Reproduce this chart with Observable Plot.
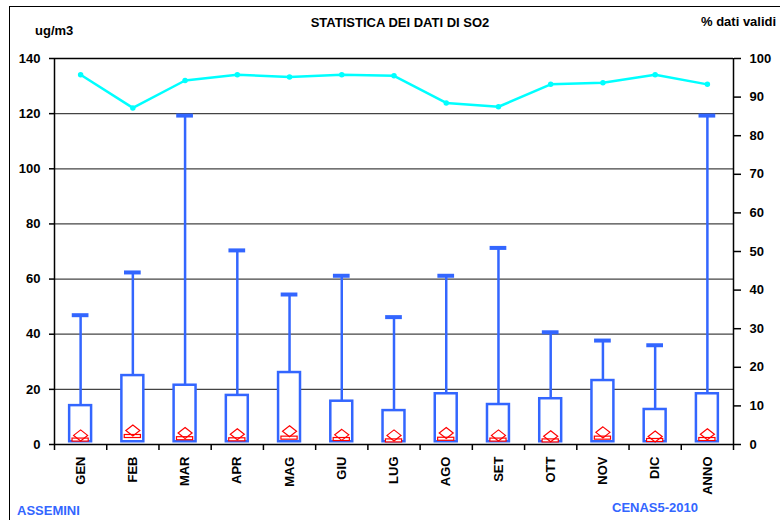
<!DOCTYPE html>
<html>
<head>
<meta charset="utf-8">
<script src="https://cdn.jsdelivr.net/npm/d3@7"></script>
<script src="https://cdn.jsdelivr.net/npm/@observablehq/plot@0.6"></script>
<style>
  html, body { margin: 0; padding: 0; background: #fff; }
  #wrap { position: relative; width: 780px; height: 520px; overflow: hidden; font-family: "Liberation Sans", Arial, sans-serif; font-weight: bold; }
  #wrap svg { position: absolute; left: 0; top: 0; }
  .t { position: absolute; font-size: 13px; white-space: nowrap; line-height: 1; }
  #frame { position: absolute; left: 9px; top: 6px; width: 800px; height: 600px; border-left: 1.5px solid #000; border-top: 1.5px solid #000; }
</style>
</head>
<body>
<div id="wrap">
  <div id="frame"></div>
  <div id="chart"></div>
  <div class="t" style="left:35px; top:24px;">ug/m3</div>
  <div class="t" style="left:400px; top:16px; transform:translateX(-50%);">STATISTICA DEI DATI DI SO2</div>
  <div class="t" style="left:701px; top:15px;">% dati validi</div>
  <div class="t" style="left:17px; top:504px; color:#3366FF;">ASSEMINI</div>
  <div class="t" style="left:612px; top:501px; color:#3366FF;">CENAS5-2010</div>
</div>
<script>
const categories = ["GEN","FEB","MAR","APR","MAG","GIU","LUG","AGO","SET","OTT","NOV","DIC","ANNO"];
const minVal    = [1, 1, 1, 1, 1, 1, 1, 1, 1, 1, 1, 1, 1];
const boxTop    = [14.1, 25.0, 21.5, 17.8, 26.1, 15.7, 12.3, 18.4, 14.5, 16.6, 23.2, 12.7, 18.4];
const maxVal    = [46.9, 62.4, 119.3, 70.4, 54.4, 61.2, 46.2, 61.2, 71.3, 40.7, 37.7, 36.0, 119.3];
const meanVal   = [3.3, 5.1, 4.2, 3.7, 4.8, 3.5, 3.3, 4.2, 3.3, 3.0, 4.4, 2.9, 3.7];
const medianVal = [1.6, 2.9, 2.1, 1.7, 2.3, 1.8, 1.3, 1.9, 1.6, 1.3, 2.3, 1.45, 1.8];
const pctValid  = [95.8, 87.2, 94.3, 95.8, 95.2, 95.8, 95.5, 88.5, 87.5, 93.3, 93.7, 95.8, 93.3];
const leftTicks = [0, 20, 40, 60, 80, 100, 120, 140];
const rightTicks = [0, 10, 20, 30, 40, 50, 60, 70, 80, 90, 100];

const ratio = 140 / 100; // right axis (%) mapped onto left axis (ug/m3)
const data = categories.map((c, i) => ({
  c, i, x: i + 0.5,
  lo: minVal[i], hi: boxTop[i], max: maxVal[i],
  mean: meanVal[i], med: medianVal[i], pct: pctValid[i] * ratio
}));

const blue = "#3366FF", red = "#FF0000", cyan = "#00FFFF";
const diamond = {
  draw(ctx) {
    const w = 7, h = 5.5;
    ctx.moveTo(0, -h); ctx.lineTo(w, 0); ctx.lineTo(0, h); ctx.lineTo(-w, 0); ctx.closePath();
  }
};

const chart = Plot.plot({
  width: 780, height: 520,
  marginTop: 58, marginBottom: 76, marginLeft: 54, marginRight: 47,
  x: { type: "linear", domain: [0, categories.length] },
  y: { domain: [0, 140] },
  style: { fontFamily: "'Liberation Sans', Arial, sans-serif", fontWeight: "bold", fontSize: "13px", color: "#000", background: "transparent" },
  marks: [
    Plot.ruleY(leftTicks.filter(v => v > 0 && v < 140), { stroke: "#444", strokeWidth: 1.3 }),
    Plot.ruleY([140], { stroke: "#000", strokeWidth: 1.5 }),
    // boxes
    Plot.rect(data, { x1: d => d.x - 0.21, x2: d => d.x + 0.21, y1: "lo", y2: "hi", fill: "#fff", stroke: blue, strokeWidth: 2.5 }),
    // whiskers
    Plot.ruleX(data, { x: "x", y1: "hi", y2: "max", stroke: blue, strokeWidth: 2.5 }),
    Plot.ruleY(data, { y: "max", x1: d => d.x - 0.16, x2: d => d.x + 0.16, stroke: blue, strokeWidth: 4 }),
    // median marker
    Plot.rect(data, { x1: d => d.x - 0.155, x2: d => d.x + 0.155, y1: d => d.med - 0.55, y2: d => d.med + 0.55, fill: "#fff", stroke: red, strokeWidth: 1.2 }),
    // mean marker
    Plot.dot(data, { x: "x", y: "mean", symbol: diamond, fill: "none", stroke: red, strokeWidth: 1.2 }),
    // % valid data
    Plot.line(data, { x: "x", y: "pct", stroke: cyan, strokeWidth: 2.5 }),
    Plot.dot(data, { x: "x", y: "pct", r: 2, fill: cyan, stroke: cyan }),
    // axes
    Plot.ruleX([0], { stroke: "#000", strokeWidth: 1.5 }),
    Plot.ruleX([categories.length], { stroke: "#000", strokeWidth: 1.5 }),
    Plot.ruleY([0], { stroke: "#000", strokeWidth: 1.5 }),
    Plot.axisY({ ticks: leftTicks, tickSize: 5, tickPadding: 9, label: null, strokeWidth: 1.5 }),
    Plot.axisY({ anchor: "right", ticks: rightTicks.map(v => v * ratio), tickFormat: v => Math.round(v / ratio), tickSize: 7, tickPadding: 9, label: null, strokeWidth: 1.5 }),
    Plot.axisX({ ticks: d3.range(0, categories.length + 1), tickFormat: () => "", tickSize: 6, label: null, strokeWidth: 1.5 }),
    Plot.axisX({ ticks: data.map(d => d.x), tickFormat: v => categories[Math.floor(v)], tickSize: 0, tickRotate: -90, tickPadding: 12, label: null })
  ]
});
document.getElementById("chart").appendChild(chart);
</script>
</body>
</html>
